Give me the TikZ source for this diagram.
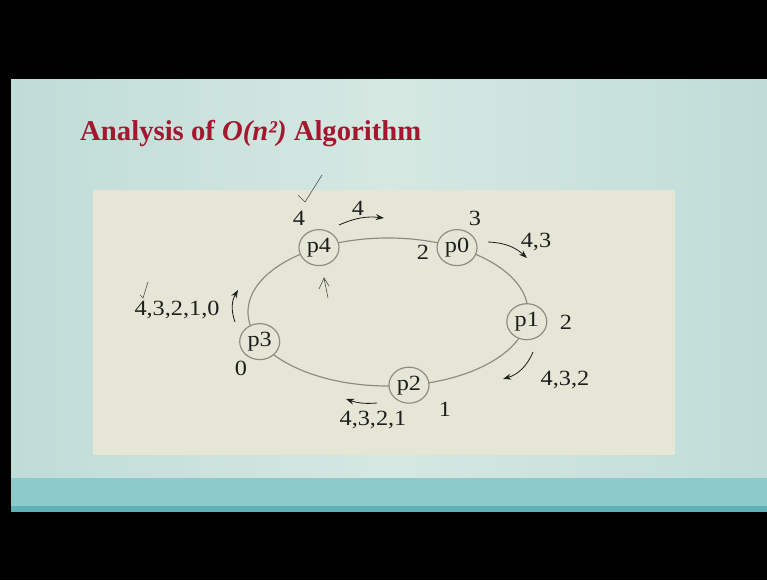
\documentclass[tikz,border=0pt]{standalone}
\usepackage{fontspec}
\setmainfont{Liberation Serif}[FakeStretch=1.12]
\newfontfamily\headfont{Liberation Serif}
\usepackage{tikz}
\usetikzlibrary{positioning,shapes.geometric,arrows.meta,calc}
\definecolor{ink}      {HTML}{1E1E1E}
\definecolor{title}    {HTML}{A3182E}
\definecolor{slide}    {HTML}{C0DCD8}
\definecolor{slidelt}  {HTML}{D5E8E2}
\definecolor{band}     {HTML}{8DCACA}
\definecolor{bandline} {HTML}{5FB3B7}
\definecolor{paper}    {HTML}{E5E6D6}
\definecolor{wire}     {HTML}{8C8C84}
\tikzset{
  >=Stealth,
  % --- nodes
  ring/.style  = {ellipse, draw=wire, line width=1pt, inner sep=0pt, outer sep=0pt,
                  minimum width=8.4cm, minimum height=4.44cm},
  proc/.style  = {ellipse, draw=wire, fill=paper, line width=1pt, inner sep=0pt,
                  minimum width=1.2cm, minimum height=1.08cm, text=ink,
                  font=\fontsize{18.5}{20}\selectfont},
  num/.style   = {text=ink, inner sep=1pt, font=\fontsize{18.5}{20}\selectfont},
  head/.style  = {text=title, inner sep=0pt, font=\headfont\fontsize{24.5}{28}\selectfont\bfseries},
  % --- edges
  msg/.style   = {-{Stealth[length=7pt,width=5pt]}, line width=0.7pt, draw=ink},
  scrawl/.style= {line width=0.5pt, draw=ink!80, line cap=round, line join=round},
}
\begin{document}
\begin{tikzpicture}[x=0.03cm,y=0.03cm]
  % backdrop
  \fill[black] (0,0) rectangle (767,580);
  \shade[left color=slide, right color=slide, middle color=slidelt] (11,102) rectangle (767,500);
  \fill[band] (11,70) rectangle (767,102);
  \fill[bandline] (11,68) rectangle (767,74);
  \fill[paper] (93,125) rectangle (675,390);
  \useasboundingbox (0,0) rectangle (767,580);

  \node[head, anchor=base west] (caption) at (80,439) {Analysis of \textit{O(n²)} Algorithm};

  % the ring
  \node[ring] (loop) at (388,268) {};
  \foreach \n/\a in {p4/137,p0/43,p1/-4.5,p2/-74,p3/193}
    \node[proc] (\n) at (loop.\a) {\n};

  % ids
  \node[num] (id4) at (299,362) {4};
  \node[num] (id0) at (423,328) {2};
  \node[num] (id0b) at (475,362) {3};
  \node[num] (id1) at (566,258) {2};
  \node[num] (id2) at (445,171) {1};
  \node[num] (id3) at (241,212) {0};

  % messages
  \node[num] (m4) at (358,372) {4};
  \node[num] (m43) at (536,338) {4,3};
  \node[num] (m432) at (565,200) {4,3,2};
  \node[num] (m4321) at (373,160) {4,3,2,1};
  \node[num] (m43210) at (177,270) {4,3,2,1,0};
  \draw[msg] (339,355) to[bend left=15] (384,362);
  \draw[msg] (488,338) to[bend left=20] (527,322);
  \draw[msg] (533,228) to[bend left=25] (503,201);
  \draw[msg] (377,177) to[bend left=12] (346,181);
  \draw[msg] (235,258) to[bend left=25] (238,290);

  % pen marks
  \draw[scrawl] (298,385) -- (305,378) -- (322,405);
  \draw[scrawl] (140,285) -- (143,282) -- (148,298);
  \draw[scrawl] (328,282) -- (324,302);
  \draw[scrawl] (319,291) -- (324,302) -- (329,294);
\end{tikzpicture}
\end{document}
